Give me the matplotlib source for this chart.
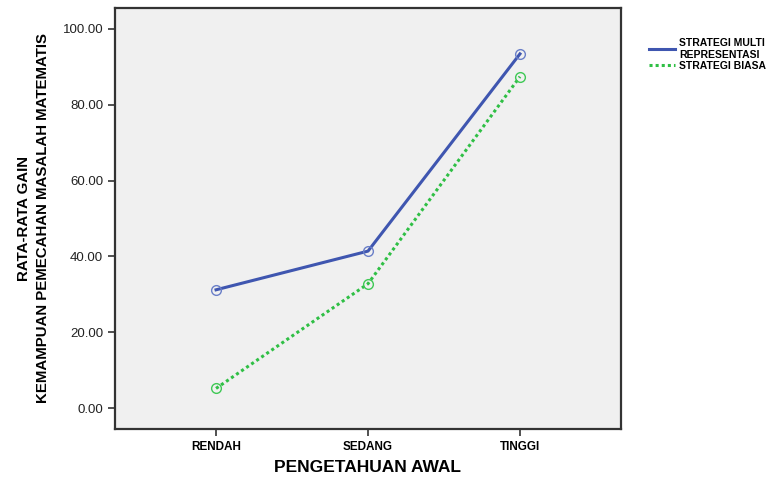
import matplotlib.pyplot as plt

categories = ['RENDAH', 'SEDANG', 'TINGGI']
multi_representasi = [31.2, 41.4, 93.4]
biasa = [5.2, 32.8, 87.4]
series_names = ['STRATEGI MULTI\nREPRESENTASI', 'STRATEGI BIASA']
y_ticks = [0, 20, 40, 60, 80, 100]

plt.rcParams['font.family'] = ['Liberation Sans', 'DejaVu Sans']

fig = plt.figure(figsize=(7.77, 4.78), dpi=100)
ax = fig.add_axes([115 / 777, 1 - 429 / 478, (621 - 115) / 777, (429 - 8) / 478])
ax.set_facecolor('#f0f0f0')

x = list(range(len(categories)))
l1, = ax.plot(x, multi_representasi, color='#3f56b0', lw=2.2, marker='o', ms=7,
              mfc='none', mec='#6a7fc8', mew=1.0, label=series_names[0])
l2, = ax.plot(x, biasa, color='#2fbf45', lw=2.2, ls=(0, (1, 1)), marker='o', ms=7,
              mfc='none', mec='#3fc955', mew=1.0, label=series_names[1])

ax.set_xlim(-0.665, 2.665)
ax.set_ylim(-5.5, 105.5)
ax.set_xticks(x)
ax.set_xticklabels(categories, fontsize=8.5, fontweight='bold')
ax.set_yticks(y_ticks)
ax.set_yticklabels(['%.2f' % v for v in y_ticks], fontsize=9.5, color='#222222')
ax.tick_params(axis='both', length=5, width=1.2, color='#333333')
for s in ax.spines.values():
    s.set_linewidth(1.6)
    s.set_color('#333333')

ax.set_xlabel('PENGETAHUAN AWAL', fontsize=12.5, fontweight='bold', labelpad=5)
ax.set_ylabel('RATA-RATA GAIN\nKEMAMPUAN PEMECAHAN MASALAH MATEMATIS',
              fontsize=10.8, fontweight='bold', labelpad=9, linespacing=1.45)

fig.legend(handles=[l1, l2], labels=series_names, loc='upper left',
           bbox_to_anchor=(645 / 777, 1 - 34 / 478), frameon=False,
           prop={'size': 7.5, 'weight': 'bold'}, handlelength=2.5,
           handletextpad=0.4, labelspacing=0.1, borderaxespad=0)
for line in fig.legends[0].get_lines():
    line.set_marker('')

fig.savefig('out.png', dpi=100)
